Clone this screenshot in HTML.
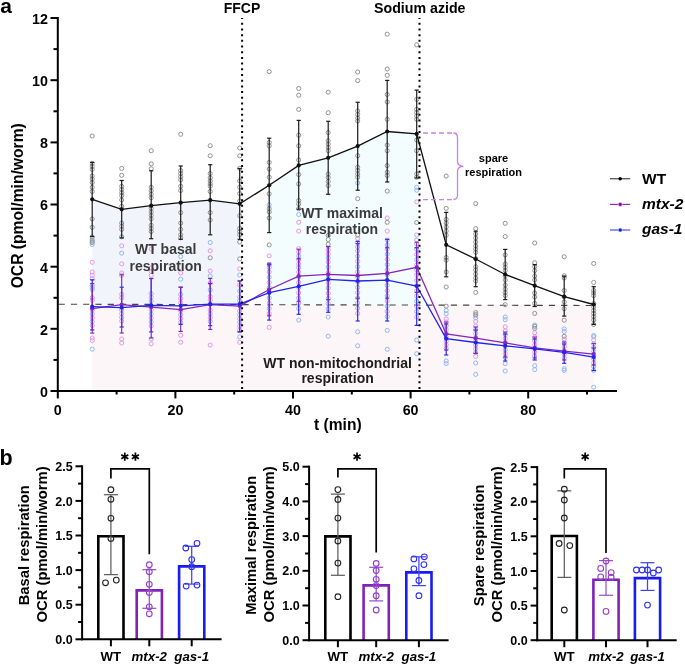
<!DOCTYPE html>
<html><head><meta charset="utf-8"><style>
html,body{margin:0;padding:0;background:#fff;}
svg{display:block;will-change:transform;}
</style></head><body>
<svg width="685" height="666" viewBox="0 0 685 666">
<rect width="685" height="666" fill="#fff"/>
<polygon points="92.2,304.3 593.7,305.5 593.7,390.0 92.2,390.0" fill="#fcf6f9"/>
<polygon points="92.2,304.3 92.2,199.3 121.7,209.3 151.2,205.7 180.7,202.7 210.2,200.2 239.7,203.8 239.7,304.6" fill="#f1f5fb"/>
<polygon points="269.2,304.7 269.2,185.3 298.7,165.4 328.2,157.8 357.7,146.1 387.2,131.5 416.7,133.9 416.7,305.1" fill="#f3fdfd"/>
<line x1="58.6" y1="304.20" x2="595" y2="305.50" stroke="#444" stroke-width="1.15" stroke-dasharray="6.2,6.057"/>
<g fill="none" stroke-width="1.0">
<circle cx="92.2" cy="241.5" r="2.05" stroke="#94b8f2"/>
<circle cx="92.2" cy="244.5" r="2.05" stroke="#94b8f2"/>
<circle cx="92.2" cy="262.3" r="2.05" stroke="#e796e8"/>
<circle cx="92.2" cy="272.0" r="2.05" stroke="#e796e8"/>
<circle cx="92.2" cy="275.3" r="2.05" stroke="#e796e8"/>
<circle cx="92.2" cy="278.7" r="2.05" stroke="#e796e8"/>
<circle cx="92.2" cy="285.3" r="2.05" stroke="#94b8f2"/>
<circle cx="92.2" cy="287.5" r="2.05" stroke="#94b8f2"/>
<circle cx="92.2" cy="289.5" r="2.05" stroke="#94b8f2"/>
<circle cx="92.2" cy="297.7" r="2.05" stroke="#e796e8"/>
<circle cx="92.2" cy="300.2" r="2.05" stroke="#e796e8"/>
<circle cx="92.2" cy="310.0" r="2.05" stroke="#e796e8"/>
<circle cx="92.2" cy="313.9" r="2.05" stroke="#94b8f2"/>
<circle cx="92.2" cy="317.8" r="2.05" stroke="#e796e8"/>
<circle cx="92.2" cy="321.7" r="2.05" stroke="#94b8f2"/>
<circle cx="92.2" cy="325.6" r="2.05" stroke="#e796e8"/>
<circle cx="92.2" cy="338.0" r="2.05" stroke="#e796e8"/>
<circle cx="92.2" cy="340.6" r="2.05" stroke="#e796e8"/>
<circle cx="92.2" cy="349.2" r="2.05" stroke="#94b8f2"/>
<circle cx="92.2" cy="136.0" r="2.05" stroke="#939393"/>
<circle cx="92.2" cy="163.5" r="2.05" stroke="#939393"/>
<circle cx="92.2" cy="166.5" r="2.05" stroke="#939393"/>
<circle cx="92.2" cy="169.4" r="2.05" stroke="#939393"/>
<circle cx="92.2" cy="176.0" r="2.05" stroke="#939393"/>
<circle cx="92.2" cy="179.0" r="2.05" stroke="#939393"/>
<circle cx="92.2" cy="182.5" r="2.05" stroke="#939393"/>
<circle cx="92.2" cy="187.3" r="2.05" stroke="#939393"/>
<circle cx="92.2" cy="191.5" r="2.05" stroke="#939393"/>
<circle cx="92.2" cy="218.9" r="2.05" stroke="#939393"/>
<circle cx="92.2" cy="227.3" r="2.05" stroke="#939393"/>
<circle cx="92.2" cy="237.0" r="2.05" stroke="#939393"/>
<circle cx="92.2" cy="240.0" r="2.05" stroke="#939393"/>
<circle cx="92.2" cy="242.5" r="2.05" stroke="#939393"/>
<circle cx="121.7" cy="245.8" r="2.05" stroke="#e796e8"/>
<circle cx="121.7" cy="253.2" r="2.05" stroke="#94b8f2"/>
<circle cx="121.7" cy="263.9" r="2.05" stroke="#e796e8"/>
<circle cx="121.7" cy="273.0" r="2.05" stroke="#e796e8"/>
<circle cx="121.7" cy="275.4" r="2.05" stroke="#e796e8"/>
<circle cx="121.7" cy="294.4" r="2.05" stroke="#e796e8"/>
<circle cx="121.7" cy="297.7" r="2.05" stroke="#e796e8"/>
<circle cx="121.7" cy="310.0" r="2.05" stroke="#94b8f2"/>
<circle cx="121.7" cy="313.7" r="2.05" stroke="#e796e8"/>
<circle cx="121.7" cy="317.4" r="2.05" stroke="#94b8f2"/>
<circle cx="121.7" cy="321.1" r="2.05" stroke="#e796e8"/>
<circle cx="121.7" cy="339.0" r="2.05" stroke="#e796e8"/>
<circle cx="121.7" cy="343.0" r="2.05" stroke="#e796e8"/>
<circle cx="121.7" cy="168.4" r="2.05" stroke="#939393"/>
<circle cx="121.7" cy="175.3" r="2.05" stroke="#939393"/>
<circle cx="121.7" cy="186.3" r="2.05" stroke="#939393"/>
<circle cx="121.7" cy="189.5" r="2.05" stroke="#939393"/>
<circle cx="121.7" cy="192.7" r="2.05" stroke="#939393"/>
<circle cx="121.7" cy="195.7" r="2.05" stroke="#939393"/>
<circle cx="121.7" cy="200.0" r="2.05" stroke="#939393"/>
<circle cx="121.7" cy="206.3" r="2.05" stroke="#939393"/>
<circle cx="121.7" cy="223.0" r="2.05" stroke="#939393"/>
<circle cx="121.7" cy="226.2" r="2.05" stroke="#939393"/>
<circle cx="121.7" cy="229.4" r="2.05" stroke="#939393"/>
<circle cx="121.7" cy="236.8" r="2.05" stroke="#939393"/>
<circle cx="151.2" cy="249.0" r="2.05" stroke="#e796e8"/>
<circle cx="151.2" cy="268.0" r="2.05" stroke="#e796e8"/>
<circle cx="151.2" cy="271.5" r="2.05" stroke="#e796e8"/>
<circle cx="151.2" cy="275.4" r="2.05" stroke="#e796e8"/>
<circle cx="151.2" cy="293.6" r="2.05" stroke="#94b8f2"/>
<circle cx="151.2" cy="297.3" r="2.05" stroke="#e796e8"/>
<circle cx="151.2" cy="301.0" r="2.05" stroke="#94b8f2"/>
<circle cx="151.2" cy="310.0" r="2.05" stroke="#e796e8"/>
<circle cx="151.2" cy="314.0" r="2.05" stroke="#94b8f2"/>
<circle cx="151.2" cy="318.0" r="2.05" stroke="#e796e8"/>
<circle cx="151.2" cy="322.0" r="2.05" stroke="#94b8f2"/>
<circle cx="151.2" cy="326.0" r="2.05" stroke="#e796e8"/>
<circle cx="151.2" cy="339.0" r="2.05" stroke="#94b8f2"/>
<circle cx="151.2" cy="343.9" r="2.05" stroke="#e796e8"/>
<circle cx="151.2" cy="150.7" r="2.05" stroke="#939393"/>
<circle cx="151.2" cy="163.8" r="2.05" stroke="#939393"/>
<circle cx="151.2" cy="168.8" r="2.05" stroke="#939393"/>
<circle cx="151.2" cy="187.3" r="2.05" stroke="#939393"/>
<circle cx="151.2" cy="190.8" r="2.05" stroke="#939393"/>
<circle cx="151.2" cy="194.3" r="2.05" stroke="#939393"/>
<circle cx="151.2" cy="197.8" r="2.05" stroke="#939393"/>
<circle cx="151.2" cy="208.4" r="2.05" stroke="#939393"/>
<circle cx="151.2" cy="211.9" r="2.05" stroke="#939393"/>
<circle cx="151.2" cy="215.4" r="2.05" stroke="#939393"/>
<circle cx="151.2" cy="218.9" r="2.05" stroke="#939393"/>
<circle cx="151.2" cy="225.2" r="2.05" stroke="#939393"/>
<circle cx="151.2" cy="228.4" r="2.05" stroke="#939393"/>
<circle cx="151.2" cy="231.5" r="2.05" stroke="#939393"/>
<circle cx="180.7" cy="256.5" r="2.05" stroke="#94b8f2"/>
<circle cx="180.7" cy="273.0" r="2.05" stroke="#e796e8"/>
<circle cx="180.7" cy="279.2" r="2.05" stroke="#94b8f2"/>
<circle cx="180.7" cy="294.4" r="2.05" stroke="#94b8f2"/>
<circle cx="180.7" cy="298.5" r="2.05" stroke="#e796e8"/>
<circle cx="180.7" cy="302.7" r="2.05" stroke="#e796e8"/>
<circle cx="180.7" cy="311.0" r="2.05" stroke="#e796e8"/>
<circle cx="180.7" cy="314.8" r="2.05" stroke="#94b8f2"/>
<circle cx="180.7" cy="318.6" r="2.05" stroke="#e796e8"/>
<circle cx="180.7" cy="322.4" r="2.05" stroke="#94b8f2"/>
<circle cx="180.7" cy="335.3" r="2.05" stroke="#e796e8"/>
<circle cx="180.7" cy="342.2" r="2.05" stroke="#e796e8"/>
<circle cx="180.7" cy="134.3" r="2.05" stroke="#939393"/>
<circle cx="180.7" cy="170.5" r="2.05" stroke="#939393"/>
<circle cx="180.7" cy="173.6" r="2.05" stroke="#939393"/>
<circle cx="180.7" cy="176.8" r="2.05" stroke="#939393"/>
<circle cx="180.7" cy="180.0" r="2.05" stroke="#939393"/>
<circle cx="180.7" cy="186.3" r="2.05" stroke="#939393"/>
<circle cx="180.7" cy="190.5" r="2.05" stroke="#939393"/>
<circle cx="180.7" cy="212.6" r="2.05" stroke="#939393"/>
<circle cx="180.7" cy="223.1" r="2.05" stroke="#939393"/>
<circle cx="180.7" cy="229.4" r="2.05" stroke="#939393"/>
<circle cx="180.7" cy="234.7" r="2.05" stroke="#939393"/>
<circle cx="180.7" cy="237.8" r="2.05" stroke="#939393"/>
<circle cx="210.2" cy="242.5" r="2.05" stroke="#94b8f2"/>
<circle cx="210.2" cy="250.8" r="2.05" stroke="#e796e8"/>
<circle cx="210.2" cy="271.0" r="2.05" stroke="#e796e8"/>
<circle cx="210.2" cy="276.0" r="2.05" stroke="#94b8f2"/>
<circle cx="210.2" cy="283.0" r="2.05" stroke="#e796e8"/>
<circle cx="210.2" cy="290.0" r="2.05" stroke="#94b8f2"/>
<circle cx="210.2" cy="296.5" r="2.05" stroke="#e796e8"/>
<circle cx="210.2" cy="300.0" r="2.05" stroke="#e796e8"/>
<circle cx="210.2" cy="310.0" r="2.05" stroke="#e796e8"/>
<circle cx="210.2" cy="313.8" r="2.05" stroke="#94b8f2"/>
<circle cx="210.2" cy="317.6" r="2.05" stroke="#e796e8"/>
<circle cx="210.2" cy="321.4" r="2.05" stroke="#94b8f2"/>
<circle cx="210.2" cy="345.1" r="2.05" stroke="#e796e8"/>
<circle cx="210.2" cy="145.7" r="2.05" stroke="#939393"/>
<circle cx="210.2" cy="155.8" r="2.05" stroke="#939393"/>
<circle cx="210.2" cy="173.6" r="2.05" stroke="#939393"/>
<circle cx="210.2" cy="177.9" r="2.05" stroke="#939393"/>
<circle cx="210.2" cy="181.0" r="2.05" stroke="#939393"/>
<circle cx="210.2" cy="184.0" r="2.05" stroke="#939393"/>
<circle cx="210.2" cy="186.3" r="2.05" stroke="#939393"/>
<circle cx="210.2" cy="191.5" r="2.05" stroke="#939393"/>
<circle cx="210.2" cy="212.6" r="2.05" stroke="#939393"/>
<circle cx="210.2" cy="220.0" r="2.05" stroke="#939393"/>
<circle cx="210.2" cy="257.8" r="2.05" stroke="#939393"/>
<circle cx="239.7" cy="268.8" r="2.05" stroke="#e796e8"/>
<circle cx="239.7" cy="275.0" r="2.05" stroke="#94b8f2"/>
<circle cx="239.7" cy="285.0" r="2.05" stroke="#e796e8"/>
<circle cx="239.7" cy="291.0" r="2.05" stroke="#94b8f2"/>
<circle cx="239.7" cy="297.0" r="2.05" stroke="#e796e8"/>
<circle cx="239.7" cy="300.5" r="2.05" stroke="#94b8f2"/>
<circle cx="239.7" cy="311.0" r="2.05" stroke="#e796e8"/>
<circle cx="239.7" cy="314.8" r="2.05" stroke="#94b8f2"/>
<circle cx="239.7" cy="318.6" r="2.05" stroke="#e796e8"/>
<circle cx="239.7" cy="322.4" r="2.05" stroke="#94b8f2"/>
<circle cx="239.7" cy="326.2" r="2.05" stroke="#e796e8"/>
<circle cx="239.7" cy="330.0" r="2.05" stroke="#94b8f2"/>
<circle cx="239.7" cy="336.8" r="2.05" stroke="#94b8f2"/>
<circle cx="239.7" cy="342.3" r="2.05" stroke="#e796e8"/>
<circle cx="239.7" cy="148.0" r="2.05" stroke="#939393"/>
<circle cx="239.7" cy="155.8" r="2.05" stroke="#939393"/>
<circle cx="239.7" cy="168.4" r="2.05" stroke="#939393"/>
<circle cx="239.7" cy="181.0" r="2.05" stroke="#939393"/>
<circle cx="239.7" cy="187.3" r="2.05" stroke="#939393"/>
<circle cx="239.7" cy="193.6" r="2.05" stroke="#939393"/>
<circle cx="239.7" cy="201.0" r="2.05" stroke="#939393"/>
<circle cx="239.7" cy="215.7" r="2.05" stroke="#939393"/>
<circle cx="239.7" cy="228.4" r="2.05" stroke="#939393"/>
<circle cx="239.7" cy="231.5" r="2.05" stroke="#939393"/>
<circle cx="239.7" cy="234.7" r="2.05" stroke="#939393"/>
<circle cx="239.7" cy="242.0" r="2.05" stroke="#939393"/>
<circle cx="239.7" cy="258.9" r="2.05" stroke="#939393"/>
<circle cx="269.2" cy="204.8" r="2.05" stroke="#94b8f2"/>
<circle cx="269.2" cy="255.9" r="2.05" stroke="#e796e8"/>
<circle cx="269.2" cy="264.7" r="2.05" stroke="#e796e8"/>
<circle cx="269.2" cy="267.6" r="2.05" stroke="#94b8f2"/>
<circle cx="269.2" cy="272.0" r="2.05" stroke="#e796e8"/>
<circle cx="269.2" cy="277.2" r="2.05" stroke="#94b8f2"/>
<circle cx="269.2" cy="282.4" r="2.05" stroke="#e796e8"/>
<circle cx="269.2" cy="287.6" r="2.05" stroke="#94b8f2"/>
<circle cx="269.2" cy="292.8" r="2.05" stroke="#e796e8"/>
<circle cx="269.2" cy="298.0" r="2.05" stroke="#94b8f2"/>
<circle cx="269.2" cy="303.2" r="2.05" stroke="#e796e8"/>
<circle cx="269.2" cy="308.4" r="2.05" stroke="#94b8f2"/>
<circle cx="269.2" cy="313.6" r="2.05" stroke="#e796e8"/>
<circle cx="269.2" cy="327.4" r="2.05" stroke="#e796e8"/>
<circle cx="269.2" cy="71.6" r="2.05" stroke="#939393"/>
<circle cx="269.2" cy="142.5" r="2.05" stroke="#939393"/>
<circle cx="269.2" cy="145.8" r="2.05" stroke="#939393"/>
<circle cx="269.2" cy="162.4" r="2.05" stroke="#939393"/>
<circle cx="269.2" cy="169.0" r="2.05" stroke="#939393"/>
<circle cx="269.2" cy="177.3" r="2.05" stroke="#939393"/>
<circle cx="269.2" cy="193.8" r="2.05" stroke="#939393"/>
<circle cx="269.2" cy="208.7" r="2.05" stroke="#939393"/>
<circle cx="269.2" cy="212.0" r="2.05" stroke="#939393"/>
<circle cx="269.2" cy="218.0" r="2.05" stroke="#939393"/>
<circle cx="269.2" cy="244.9" r="2.05" stroke="#939393"/>
<circle cx="298.7" cy="214.5" r="2.05" stroke="#94b8f2"/>
<circle cx="298.7" cy="222.3" r="2.05" stroke="#e796e8"/>
<circle cx="298.7" cy="231.1" r="2.05" stroke="#e796e8"/>
<circle cx="298.7" cy="248.6" r="2.05" stroke="#e796e8"/>
<circle cx="298.7" cy="252.0" r="2.05" stroke="#e796e8"/>
<circle cx="298.7" cy="256.0" r="2.05" stroke="#94b8f2"/>
<circle cx="298.7" cy="260.0" r="2.05" stroke="#e796e8"/>
<circle cx="298.7" cy="264.0" r="2.05" stroke="#e796e8"/>
<circle cx="298.7" cy="267.6" r="2.05" stroke="#94b8f2"/>
<circle cx="298.7" cy="272.0" r="2.05" stroke="#e796e8"/>
<circle cx="298.7" cy="277.2" r="2.05" stroke="#94b8f2"/>
<circle cx="298.7" cy="282.4" r="2.05" stroke="#e796e8"/>
<circle cx="298.7" cy="287.6" r="2.05" stroke="#94b8f2"/>
<circle cx="298.7" cy="292.8" r="2.05" stroke="#e796e8"/>
<circle cx="298.7" cy="298.0" r="2.05" stroke="#94b8f2"/>
<circle cx="298.7" cy="303.2" r="2.05" stroke="#e796e8"/>
<circle cx="298.7" cy="308.4" r="2.05" stroke="#94b8f2"/>
<circle cx="298.7" cy="320.1" r="2.05" stroke="#94b8f2"/>
<circle cx="298.7" cy="88.5" r="2.05" stroke="#939393"/>
<circle cx="298.7" cy="95.2" r="2.05" stroke="#939393"/>
<circle cx="298.7" cy="109.4" r="2.05" stroke="#939393"/>
<circle cx="298.7" cy="135.2" r="2.05" stroke="#939393"/>
<circle cx="298.7" cy="145.8" r="2.05" stroke="#939393"/>
<circle cx="298.7" cy="160.0" r="2.05" stroke="#939393"/>
<circle cx="298.7" cy="174.6" r="2.05" stroke="#939393"/>
<circle cx="298.7" cy="183.9" r="2.05" stroke="#939393"/>
<circle cx="298.7" cy="200.5" r="2.05" stroke="#939393"/>
<circle cx="298.7" cy="204.0" r="2.05" stroke="#939393"/>
<circle cx="298.7" cy="208.7" r="2.05" stroke="#939393"/>
<circle cx="328.2" cy="250.0" r="2.05" stroke="#e796e8"/>
<circle cx="328.2" cy="254.0" r="2.05" stroke="#e796e8"/>
<circle cx="328.2" cy="258.0" r="2.05" stroke="#94b8f2"/>
<circle cx="328.2" cy="262.0" r="2.05" stroke="#e796e8"/>
<circle cx="328.2" cy="267.2" r="2.05" stroke="#94b8f2"/>
<circle cx="328.2" cy="272.4" r="2.05" stroke="#e796e8"/>
<circle cx="328.2" cy="277.6" r="2.05" stroke="#94b8f2"/>
<circle cx="328.2" cy="282.8" r="2.05" stroke="#e796e8"/>
<circle cx="328.2" cy="288.0" r="2.05" stroke="#94b8f2"/>
<circle cx="328.2" cy="293.2" r="2.05" stroke="#e796e8"/>
<circle cx="328.2" cy="298.4" r="2.05" stroke="#94b8f2"/>
<circle cx="328.2" cy="303.6" r="2.05" stroke="#e796e8"/>
<circle cx="328.2" cy="308.8" r="2.05" stroke="#94b8f2"/>
<circle cx="328.2" cy="317.0" r="2.05" stroke="#94b8f2"/>
<circle cx="328.2" cy="336.2" r="2.05" stroke="#94b8f2"/>
<circle cx="328.2" cy="92.2" r="2.05" stroke="#939393"/>
<circle cx="328.2" cy="112.7" r="2.05" stroke="#939393"/>
<circle cx="328.2" cy="132.6" r="2.05" stroke="#939393"/>
<circle cx="328.2" cy="140.9" r="2.05" stroke="#939393"/>
<circle cx="328.2" cy="144.0" r="2.05" stroke="#939393"/>
<circle cx="328.2" cy="147.5" r="2.05" stroke="#939393"/>
<circle cx="328.2" cy="150.8" r="2.05" stroke="#939393"/>
<circle cx="328.2" cy="174.0" r="2.05" stroke="#939393"/>
<circle cx="328.2" cy="177.5" r="2.05" stroke="#939393"/>
<circle cx="328.2" cy="181.5" r="2.05" stroke="#939393"/>
<circle cx="328.2" cy="185.6" r="2.05" stroke="#939393"/>
<circle cx="328.2" cy="235.5" r="2.05" stroke="#939393"/>
<circle cx="328.2" cy="239.5" r="2.05" stroke="#939393"/>
<circle cx="328.2" cy="244.2" r="2.05" stroke="#939393"/>
<circle cx="357.7" cy="183.0" r="2.05" stroke="#94b8f2"/>
<circle cx="357.7" cy="238.4" r="2.05" stroke="#e796e8"/>
<circle cx="357.7" cy="243.0" r="2.05" stroke="#e796e8"/>
<circle cx="357.7" cy="247.0" r="2.05" stroke="#94b8f2"/>
<circle cx="357.7" cy="251.0" r="2.05" stroke="#e796e8"/>
<circle cx="357.7" cy="256.2" r="2.05" stroke="#94b8f2"/>
<circle cx="357.7" cy="261.4" r="2.05" stroke="#e796e8"/>
<circle cx="357.7" cy="266.6" r="2.05" stroke="#94b8f2"/>
<circle cx="357.7" cy="271.8" r="2.05" stroke="#e796e8"/>
<circle cx="357.7" cy="277.0" r="2.05" stroke="#94b8f2"/>
<circle cx="357.7" cy="282.2" r="2.05" stroke="#e796e8"/>
<circle cx="357.7" cy="287.4" r="2.05" stroke="#94b8f2"/>
<circle cx="357.7" cy="292.6" r="2.05" stroke="#e796e8"/>
<circle cx="357.7" cy="297.8" r="2.05" stroke="#94b8f2"/>
<circle cx="357.7" cy="303.0" r="2.05" stroke="#e796e8"/>
<circle cx="357.7" cy="308.2" r="2.05" stroke="#94b8f2"/>
<circle cx="357.7" cy="313.4" r="2.05" stroke="#e796e8"/>
<circle cx="357.7" cy="331.8" r="2.05" stroke="#94b8f2"/>
<circle cx="357.7" cy="345.8" r="2.05" stroke="#94b8f2"/>
<circle cx="357.7" cy="72.0" r="2.05" stroke="#939393"/>
<circle cx="357.7" cy="80.6" r="2.05" stroke="#939393"/>
<circle cx="357.7" cy="111.0" r="2.05" stroke="#939393"/>
<circle cx="357.7" cy="114.5" r="2.05" stroke="#939393"/>
<circle cx="357.7" cy="118.0" r="2.05" stroke="#939393"/>
<circle cx="357.7" cy="121.0" r="2.05" stroke="#939393"/>
<circle cx="357.7" cy="155.7" r="2.05" stroke="#939393"/>
<circle cx="357.7" cy="167.3" r="2.05" stroke="#939393"/>
<circle cx="357.7" cy="170.5" r="2.05" stroke="#939393"/>
<circle cx="357.7" cy="174.0" r="2.05" stroke="#939393"/>
<circle cx="357.7" cy="177.2" r="2.05" stroke="#939393"/>
<circle cx="357.7" cy="198.7" r="2.05" stroke="#939393"/>
<circle cx="357.7" cy="235.1" r="2.05" stroke="#939393"/>
<circle cx="387.2" cy="218.0" r="2.05" stroke="#e796e8"/>
<circle cx="387.2" cy="231.1" r="2.05" stroke="#e796e8"/>
<circle cx="387.2" cy="240.0" r="2.05" stroke="#e796e8"/>
<circle cx="387.2" cy="245.0" r="2.05" stroke="#94b8f2"/>
<circle cx="387.2" cy="249.0" r="2.05" stroke="#e796e8"/>
<circle cx="387.2" cy="254.2" r="2.05" stroke="#94b8f2"/>
<circle cx="387.2" cy="259.4" r="2.05" stroke="#e796e8"/>
<circle cx="387.2" cy="264.6" r="2.05" stroke="#94b8f2"/>
<circle cx="387.2" cy="269.8" r="2.05" stroke="#e796e8"/>
<circle cx="387.2" cy="275.0" r="2.05" stroke="#94b8f2"/>
<circle cx="387.2" cy="280.2" r="2.05" stroke="#e796e8"/>
<circle cx="387.2" cy="285.4" r="2.05" stroke="#94b8f2"/>
<circle cx="387.2" cy="290.6" r="2.05" stroke="#e796e8"/>
<circle cx="387.2" cy="295.8" r="2.05" stroke="#94b8f2"/>
<circle cx="387.2" cy="301.0" r="2.05" stroke="#e796e8"/>
<circle cx="387.2" cy="306.2" r="2.05" stroke="#94b8f2"/>
<circle cx="387.2" cy="311.4" r="2.05" stroke="#e796e8"/>
<circle cx="387.2" cy="316.6" r="2.05" stroke="#94b8f2"/>
<circle cx="387.2" cy="330.4" r="2.05" stroke="#94b8f2"/>
<circle cx="387.2" cy="349.3" r="2.05" stroke="#94b8f2"/>
<circle cx="387.2" cy="34.2" r="2.05" stroke="#939393"/>
<circle cx="387.2" cy="69.0" r="2.05" stroke="#939393"/>
<circle cx="387.2" cy="75.3" r="2.05" stroke="#939393"/>
<circle cx="387.2" cy="94.5" r="2.05" stroke="#939393"/>
<circle cx="387.2" cy="102.0" r="2.05" stroke="#939393"/>
<circle cx="387.2" cy="119.3" r="2.05" stroke="#939393"/>
<circle cx="387.2" cy="145.1" r="2.05" stroke="#939393"/>
<circle cx="387.2" cy="150.7" r="2.05" stroke="#939393"/>
<circle cx="387.2" cy="165.6" r="2.05" stroke="#939393"/>
<circle cx="387.2" cy="172.2" r="2.05" stroke="#939393"/>
<circle cx="387.2" cy="175.5" r="2.05" stroke="#939393"/>
<circle cx="387.2" cy="191.1" r="2.05" stroke="#939393"/>
<circle cx="387.2" cy="222.3" r="2.05" stroke="#939393"/>
<circle cx="416.7" cy="187.3" r="2.05" stroke="#94b8f2"/>
<circle cx="416.7" cy="190.2" r="2.05" stroke="#94b8f2"/>
<circle cx="416.7" cy="201.9" r="2.05" stroke="#e796e8"/>
<circle cx="416.7" cy="235.0" r="2.05" stroke="#e796e8"/>
<circle cx="416.7" cy="240.0" r="2.05" stroke="#94b8f2"/>
<circle cx="416.7" cy="244.0" r="2.05" stroke="#e796e8"/>
<circle cx="416.7" cy="249.2" r="2.05" stroke="#94b8f2"/>
<circle cx="416.7" cy="254.4" r="2.05" stroke="#e796e8"/>
<circle cx="416.7" cy="259.6" r="2.05" stroke="#94b8f2"/>
<circle cx="416.7" cy="264.8" r="2.05" stroke="#e796e8"/>
<circle cx="416.7" cy="270.0" r="2.05" stroke="#94b8f2"/>
<circle cx="416.7" cy="275.2" r="2.05" stroke="#e796e8"/>
<circle cx="416.7" cy="280.4" r="2.05" stroke="#94b8f2"/>
<circle cx="416.7" cy="285.6" r="2.05" stroke="#e796e8"/>
<circle cx="416.7" cy="290.8" r="2.05" stroke="#94b8f2"/>
<circle cx="416.7" cy="296.0" r="2.05" stroke="#e796e8"/>
<circle cx="416.7" cy="301.2" r="2.05" stroke="#94b8f2"/>
<circle cx="416.7" cy="306.4" r="2.05" stroke="#e796e8"/>
<circle cx="416.7" cy="311.6" r="2.05" stroke="#94b8f2"/>
<circle cx="416.7" cy="316.8" r="2.05" stroke="#e796e8"/>
<circle cx="416.7" cy="340.0" r="2.05" stroke="#94b8f2"/>
<circle cx="416.7" cy="353.7" r="2.05" stroke="#94b8f2"/>
<circle cx="416.7" cy="44.8" r="2.05" stroke="#939393"/>
<circle cx="416.7" cy="99.4" r="2.05" stroke="#939393"/>
<circle cx="416.7" cy="109.3" r="2.05" stroke="#939393"/>
<circle cx="416.7" cy="112.6" r="2.05" stroke="#939393"/>
<circle cx="416.7" cy="116.0" r="2.05" stroke="#939393"/>
<circle cx="416.7" cy="119.3" r="2.05" stroke="#939393"/>
<circle cx="416.7" cy="140.1" r="2.05" stroke="#939393"/>
<circle cx="416.7" cy="150.7" r="2.05" stroke="#939393"/>
<circle cx="416.7" cy="173.9" r="2.05" stroke="#939393"/>
<circle cx="416.7" cy="177.2" r="2.05" stroke="#939393"/>
<circle cx="416.7" cy="222.5" r="2.05" stroke="#939393"/>
<circle cx="446.2" cy="310.5" r="2.05" stroke="#94b8f2"/>
<circle cx="446.2" cy="313.7" r="2.05" stroke="#94b8f2"/>
<circle cx="446.2" cy="318.9" r="2.05" stroke="#e796e8"/>
<circle cx="446.2" cy="322.0" r="2.05" stroke="#e796e8"/>
<circle cx="446.2" cy="325.8" r="2.05" stroke="#94b8f2"/>
<circle cx="446.2" cy="329.6" r="2.05" stroke="#e796e8"/>
<circle cx="446.2" cy="333.4" r="2.05" stroke="#94b8f2"/>
<circle cx="446.2" cy="337.2" r="2.05" stroke="#e796e8"/>
<circle cx="446.2" cy="341.0" r="2.05" stroke="#94b8f2"/>
<circle cx="446.2" cy="344.8" r="2.05" stroke="#e796e8"/>
<circle cx="446.2" cy="348.6" r="2.05" stroke="#94b8f2"/>
<circle cx="446.2" cy="361.0" r="2.05" stroke="#94b8f2"/>
<circle cx="446.2" cy="363.6" r="2.05" stroke="#94b8f2"/>
<circle cx="446.2" cy="176.1" r="2.05" stroke="#939393"/>
<circle cx="446.2" cy="208.4" r="2.05" stroke="#939393"/>
<circle cx="446.2" cy="219.4" r="2.05" stroke="#939393"/>
<circle cx="446.2" cy="223.0" r="2.05" stroke="#939393"/>
<circle cx="446.2" cy="227.0" r="2.05" stroke="#939393"/>
<circle cx="446.2" cy="231.0" r="2.05" stroke="#939393"/>
<circle cx="446.2" cy="235.2" r="2.05" stroke="#939393"/>
<circle cx="446.2" cy="257.5" r="2.05" stroke="#939393"/>
<circle cx="446.2" cy="260.1" r="2.05" stroke="#939393"/>
<circle cx="446.2" cy="272.0" r="2.05" stroke="#939393"/>
<circle cx="446.2" cy="287.0" r="2.05" stroke="#939393"/>
<circle cx="446.2" cy="306.2" r="2.05" stroke="#939393"/>
<circle cx="475.7" cy="315.8" r="2.05" stroke="#94b8f2"/>
<circle cx="475.7" cy="317.9" r="2.05" stroke="#94b8f2"/>
<circle cx="475.7" cy="321.5" r="2.05" stroke="#e796e8"/>
<circle cx="475.7" cy="326.0" r="2.05" stroke="#e796e8"/>
<circle cx="475.7" cy="329.8" r="2.05" stroke="#94b8f2"/>
<circle cx="475.7" cy="333.6" r="2.05" stroke="#e796e8"/>
<circle cx="475.7" cy="337.4" r="2.05" stroke="#94b8f2"/>
<circle cx="475.7" cy="341.2" r="2.05" stroke="#e796e8"/>
<circle cx="475.7" cy="345.0" r="2.05" stroke="#94b8f2"/>
<circle cx="475.7" cy="348.8" r="2.05" stroke="#e796e8"/>
<circle cx="475.7" cy="352.6" r="2.05" stroke="#94b8f2"/>
<circle cx="475.7" cy="356.4" r="2.05" stroke="#e796e8"/>
<circle cx="475.7" cy="363.0" r="2.05" stroke="#94b8f2"/>
<circle cx="475.7" cy="374.4" r="2.05" stroke="#94b8f2"/>
<circle cx="475.7" cy="203.6" r="2.05" stroke="#939393"/>
<circle cx="475.7" cy="228.6" r="2.05" stroke="#939393"/>
<circle cx="475.7" cy="234.0" r="2.05" stroke="#939393"/>
<circle cx="475.7" cy="238.0" r="2.05" stroke="#939393"/>
<circle cx="475.7" cy="242.0" r="2.05" stroke="#939393"/>
<circle cx="475.7" cy="246.0" r="2.05" stroke="#939393"/>
<circle cx="475.7" cy="249.0" r="2.05" stroke="#939393"/>
<circle cx="475.7" cy="252.3" r="2.05" stroke="#939393"/>
<circle cx="475.7" cy="258.8" r="2.05" stroke="#939393"/>
<circle cx="475.7" cy="266.7" r="2.05" stroke="#939393"/>
<circle cx="475.7" cy="270.0" r="2.05" stroke="#939393"/>
<circle cx="475.7" cy="274.0" r="2.05" stroke="#939393"/>
<circle cx="475.7" cy="278.0" r="2.05" stroke="#939393"/>
<circle cx="475.7" cy="281.0" r="2.05" stroke="#939393"/>
<circle cx="475.7" cy="292.4" r="2.05" stroke="#939393"/>
<circle cx="475.7" cy="312.6" r="2.05" stroke="#939393"/>
<circle cx="475.7" cy="314.5" r="2.05" stroke="#939393"/>
<circle cx="505.2" cy="317.0" r="2.05" stroke="#94b8f2"/>
<circle cx="505.2" cy="319.7" r="2.05" stroke="#94b8f2"/>
<circle cx="505.2" cy="326.8" r="2.05" stroke="#e796e8"/>
<circle cx="505.2" cy="331.0" r="2.05" stroke="#e796e8"/>
<circle cx="505.2" cy="334.8" r="2.05" stroke="#94b8f2"/>
<circle cx="505.2" cy="338.6" r="2.05" stroke="#e796e8"/>
<circle cx="505.2" cy="342.4" r="2.05" stroke="#94b8f2"/>
<circle cx="505.2" cy="346.2" r="2.05" stroke="#e796e8"/>
<circle cx="505.2" cy="350.0" r="2.05" stroke="#94b8f2"/>
<circle cx="505.2" cy="353.8" r="2.05" stroke="#e796e8"/>
<circle cx="505.2" cy="357.6" r="2.05" stroke="#94b8f2"/>
<circle cx="505.2" cy="363.6" r="2.05" stroke="#94b8f2"/>
<circle cx="505.2" cy="371.0" r="2.05" stroke="#94b8f2"/>
<circle cx="505.2" cy="223.3" r="2.05" stroke="#939393"/>
<circle cx="505.2" cy="236.5" r="2.05" stroke="#939393"/>
<circle cx="505.2" cy="254.9" r="2.05" stroke="#939393"/>
<circle cx="505.2" cy="264.0" r="2.05" stroke="#939393"/>
<circle cx="505.2" cy="267.3" r="2.05" stroke="#939393"/>
<circle cx="505.2" cy="270.6" r="2.05" stroke="#939393"/>
<circle cx="505.2" cy="276.0" r="2.05" stroke="#939393"/>
<circle cx="505.2" cy="280.0" r="2.05" stroke="#939393"/>
<circle cx="505.2" cy="285.0" r="2.05" stroke="#939393"/>
<circle cx="505.2" cy="289.0" r="2.05" stroke="#939393"/>
<circle cx="505.2" cy="292.5" r="2.05" stroke="#939393"/>
<circle cx="505.2" cy="295.6" r="2.05" stroke="#939393"/>
<circle cx="505.2" cy="304.7" r="2.05" stroke="#939393"/>
<circle cx="534.7" cy="325.0" r="2.05" stroke="#94b8f2"/>
<circle cx="534.7" cy="332.8" r="2.05" stroke="#e796e8"/>
<circle cx="534.7" cy="337.0" r="2.05" stroke="#e796e8"/>
<circle cx="534.7" cy="340.8" r="2.05" stroke="#94b8f2"/>
<circle cx="534.7" cy="344.6" r="2.05" stroke="#e796e8"/>
<circle cx="534.7" cy="348.4" r="2.05" stroke="#94b8f2"/>
<circle cx="534.7" cy="352.2" r="2.05" stroke="#e796e8"/>
<circle cx="534.7" cy="356.0" r="2.05" stroke="#94b8f2"/>
<circle cx="534.7" cy="365.7" r="2.05" stroke="#94b8f2"/>
<circle cx="534.7" cy="369.6" r="2.05" stroke="#94b8f2"/>
<circle cx="534.7" cy="243.0" r="2.05" stroke="#939393"/>
<circle cx="534.7" cy="262.7" r="2.05" stroke="#939393"/>
<circle cx="534.7" cy="266.7" r="2.05" stroke="#939393"/>
<circle cx="534.7" cy="270.6" r="2.05" stroke="#939393"/>
<circle cx="534.7" cy="276.0" r="2.05" stroke="#939393"/>
<circle cx="534.7" cy="280.0" r="2.05" stroke="#939393"/>
<circle cx="534.7" cy="293.0" r="2.05" stroke="#939393"/>
<circle cx="534.7" cy="297.0" r="2.05" stroke="#939393"/>
<circle cx="534.7" cy="303.5" r="2.05" stroke="#939393"/>
<circle cx="534.7" cy="313.4" r="2.05" stroke="#939393"/>
<circle cx="534.7" cy="326.3" r="2.05" stroke="#939393"/>
<circle cx="534.7" cy="328.4" r="2.05" stroke="#939393"/>
<circle cx="564.2" cy="328.9" r="2.05" stroke="#94b8f2"/>
<circle cx="564.2" cy="331.5" r="2.05" stroke="#94b8f2"/>
<circle cx="564.2" cy="339.0" r="2.05" stroke="#e796e8"/>
<circle cx="564.2" cy="342.8" r="2.05" stroke="#94b8f2"/>
<circle cx="564.2" cy="346.6" r="2.05" stroke="#e796e8"/>
<circle cx="564.2" cy="350.4" r="2.05" stroke="#94b8f2"/>
<circle cx="564.2" cy="354.2" r="2.05" stroke="#e796e8"/>
<circle cx="564.2" cy="358.0" r="2.05" stroke="#94b8f2"/>
<circle cx="564.2" cy="368.8" r="2.05" stroke="#94b8f2"/>
<circle cx="564.2" cy="370.4" r="2.05" stroke="#94b8f2"/>
<circle cx="564.2" cy="256.8" r="2.05" stroke="#939393"/>
<circle cx="564.2" cy="275.8" r="2.05" stroke="#939393"/>
<circle cx="564.2" cy="278.0" r="2.05" stroke="#939393"/>
<circle cx="564.2" cy="290.5" r="2.05" stroke="#939393"/>
<circle cx="564.2" cy="297.0" r="2.05" stroke="#939393"/>
<circle cx="564.2" cy="302.0" r="2.05" stroke="#939393"/>
<circle cx="564.2" cy="308.7" r="2.05" stroke="#939393"/>
<circle cx="564.2" cy="320.2" r="2.05" stroke="#939393"/>
<circle cx="564.2" cy="336.3" r="2.05" stroke="#939393"/>
<circle cx="593.7" cy="335.5" r="2.05" stroke="#94b8f2"/>
<circle cx="593.7" cy="336.8" r="2.05" stroke="#94b8f2"/>
<circle cx="593.7" cy="340.0" r="2.05" stroke="#e796e8"/>
<circle cx="593.7" cy="343.8" r="2.05" stroke="#94b8f2"/>
<circle cx="593.7" cy="347.6" r="2.05" stroke="#e796e8"/>
<circle cx="593.7" cy="351.4" r="2.05" stroke="#94b8f2"/>
<circle cx="593.7" cy="355.2" r="2.05" stroke="#e796e8"/>
<circle cx="593.7" cy="359.0" r="2.05" stroke="#94b8f2"/>
<circle cx="593.7" cy="362.8" r="2.05" stroke="#e796e8"/>
<circle cx="593.7" cy="366.6" r="2.05" stroke="#94b8f2"/>
<circle cx="593.7" cy="370.4" r="2.05" stroke="#94b8f2"/>
<circle cx="593.7" cy="387.2" r="2.05" stroke="#94b8f2"/>
<circle cx="593.7" cy="263.5" r="2.05" stroke="#939393"/>
<circle cx="593.7" cy="282.4" r="2.05" stroke="#939393"/>
<circle cx="593.7" cy="290.5" r="2.05" stroke="#939393"/>
<circle cx="593.7" cy="293.0" r="2.05" stroke="#939393"/>
<circle cx="593.7" cy="295.6" r="2.05" stroke="#939393"/>
<circle cx="593.7" cy="303.5" r="2.05" stroke="#939393"/>
<circle cx="593.7" cy="307.0" r="2.05" stroke="#939393"/>
<circle cx="593.7" cy="310.5" r="2.05" stroke="#939393"/>
<circle cx="593.7" cy="313.5" r="2.05" stroke="#939393"/>
<circle cx="593.7" cy="316.6" r="2.05" stroke="#939393"/>
<circle cx="593.7" cy="320.0" r="2.05" stroke="#939393"/>
<circle cx="593.7" cy="324.5" r="2.05" stroke="#939393"/>
</g>
<line x1="92.2" y1="279.8" x2="92.2" y2="330.0" stroke="#2323f0" stroke-width="1.15"/>
<line x1="90.1" y1="279.8" x2="94.3" y2="279.8" stroke="#2323f0" stroke-width="1.15"/>
<line x1="90.1" y1="330.0" x2="94.3" y2="330.0" stroke="#2323f0" stroke-width="1.15"/>
<line x1="121.7" y1="287.2" x2="121.7" y2="327.0" stroke="#2323f0" stroke-width="1.15"/>
<line x1="119.6" y1="287.2" x2="123.8" y2="287.2" stroke="#2323f0" stroke-width="1.15"/>
<line x1="119.6" y1="327.0" x2="123.8" y2="327.0" stroke="#2323f0" stroke-width="1.15"/>
<line x1="151.2" y1="278.5" x2="151.2" y2="331.9" stroke="#2323f0" stroke-width="1.15"/>
<line x1="149.1" y1="278.5" x2="153.3" y2="278.5" stroke="#2323f0" stroke-width="1.15"/>
<line x1="149.1" y1="331.9" x2="153.3" y2="331.9" stroke="#2323f0" stroke-width="1.15"/>
<line x1="180.7" y1="287.2" x2="180.7" y2="324.4" stroke="#2323f0" stroke-width="1.15"/>
<line x1="178.6" y1="287.2" x2="182.8" y2="287.2" stroke="#2323f0" stroke-width="1.15"/>
<line x1="178.6" y1="324.4" x2="182.8" y2="324.4" stroke="#2323f0" stroke-width="1.15"/>
<line x1="210.2" y1="283.5" x2="210.2" y2="325.7" stroke="#2323f0" stroke-width="1.15"/>
<line x1="208.1" y1="283.5" x2="212.3" y2="283.5" stroke="#2323f0" stroke-width="1.15"/>
<line x1="208.1" y1="325.7" x2="212.3" y2="325.7" stroke="#2323f0" stroke-width="1.15"/>
<line x1="239.7" y1="281.0" x2="239.7" y2="331.9" stroke="#2323f0" stroke-width="1.15"/>
<line x1="237.6" y1="281.0" x2="241.8" y2="281.0" stroke="#2323f0" stroke-width="1.15"/>
<line x1="237.6" y1="331.9" x2="241.8" y2="331.9" stroke="#2323f0" stroke-width="1.15"/>
<line x1="269.2" y1="264.7" x2="269.2" y2="320.1" stroke="#2323f0" stroke-width="1.15"/>
<line x1="267.1" y1="264.7" x2="271.3" y2="264.7" stroke="#2323f0" stroke-width="1.15"/>
<line x1="267.1" y1="320.1" x2="271.3" y2="320.1" stroke="#2323f0" stroke-width="1.15"/>
<line x1="298.7" y1="258.8" x2="298.7" y2="314.3" stroke="#2323f0" stroke-width="1.15"/>
<line x1="296.6" y1="258.8" x2="300.8" y2="258.8" stroke="#2323f0" stroke-width="1.15"/>
<line x1="296.6" y1="314.3" x2="300.8" y2="314.3" stroke="#2323f0" stroke-width="1.15"/>
<line x1="328.2" y1="246.6" x2="328.2" y2="312.3" stroke="#2323f0" stroke-width="1.15"/>
<line x1="326.1" y1="246.6" x2="330.3" y2="246.6" stroke="#2323f0" stroke-width="1.15"/>
<line x1="326.1" y1="312.3" x2="330.3" y2="312.3" stroke="#2323f0" stroke-width="1.15"/>
<line x1="357.7" y1="241.3" x2="357.7" y2="321.0" stroke="#2323f0" stroke-width="1.15"/>
<line x1="355.6" y1="241.3" x2="359.8" y2="241.3" stroke="#2323f0" stroke-width="1.15"/>
<line x1="355.6" y1="321.0" x2="359.8" y2="321.0" stroke="#2323f0" stroke-width="1.15"/>
<line x1="387.2" y1="239.3" x2="387.2" y2="321.0" stroke="#2323f0" stroke-width="1.15"/>
<line x1="385.1" y1="239.3" x2="389.3" y2="239.3" stroke="#2323f0" stroke-width="1.15"/>
<line x1="385.1" y1="321.0" x2="389.3" y2="321.0" stroke="#2323f0" stroke-width="1.15"/>
<line x1="416.7" y1="247.7" x2="416.7" y2="325.4" stroke="#2323f0" stroke-width="1.15"/>
<line x1="414.6" y1="247.7" x2="418.8" y2="247.7" stroke="#2323f0" stroke-width="1.15"/>
<line x1="414.6" y1="325.4" x2="418.8" y2="325.4" stroke="#2323f0" stroke-width="1.15"/>
<line x1="446.2" y1="324.0" x2="446.2" y2="355.0" stroke="#2323f0" stroke-width="1.15"/>
<line x1="444.1" y1="324.0" x2="448.3" y2="324.0" stroke="#2323f0" stroke-width="1.15"/>
<line x1="444.1" y1="355.0" x2="448.3" y2="355.0" stroke="#2323f0" stroke-width="1.15"/>
<line x1="475.7" y1="330.0" x2="475.7" y2="353.4" stroke="#2323f0" stroke-width="1.15"/>
<line x1="473.6" y1="330.0" x2="477.8" y2="330.0" stroke="#2323f0" stroke-width="1.15"/>
<line x1="473.6" y1="353.4" x2="477.8" y2="353.4" stroke="#2323f0" stroke-width="1.15"/>
<line x1="505.2" y1="334.0" x2="505.2" y2="361.0" stroke="#2323f0" stroke-width="1.15"/>
<line x1="503.1" y1="334.0" x2="507.3" y2="334.0" stroke="#2323f0" stroke-width="1.15"/>
<line x1="503.1" y1="361.0" x2="507.3" y2="361.0" stroke="#2323f0" stroke-width="1.15"/>
<line x1="534.7" y1="339.0" x2="534.7" y2="360.0" stroke="#2323f0" stroke-width="1.15"/>
<line x1="532.6" y1="339.0" x2="536.8" y2="339.0" stroke="#2323f0" stroke-width="1.15"/>
<line x1="532.6" y1="360.0" x2="536.8" y2="360.0" stroke="#2323f0" stroke-width="1.15"/>
<line x1="564.2" y1="344.0" x2="564.2" y2="363.3" stroke="#2323f0" stroke-width="1.15"/>
<line x1="562.1" y1="344.0" x2="566.3" y2="344.0" stroke="#2323f0" stroke-width="1.15"/>
<line x1="562.1" y1="363.3" x2="566.3" y2="363.3" stroke="#2323f0" stroke-width="1.15"/>
<line x1="593.7" y1="348.0" x2="593.7" y2="370.6" stroke="#2323f0" stroke-width="1.15"/>
<line x1="591.6" y1="348.0" x2="595.8" y2="348.0" stroke="#2323f0" stroke-width="1.15"/>
<line x1="591.6" y1="370.6" x2="595.8" y2="370.6" stroke="#2323f0" stroke-width="1.15"/>
<line x1="92.2" y1="283.5" x2="92.2" y2="333.1" stroke="#8228b8" stroke-width="1.15"/>
<line x1="90.1" y1="283.5" x2="94.3" y2="283.5" stroke="#8228b8" stroke-width="1.15"/>
<line x1="90.1" y1="333.1" x2="94.3" y2="333.1" stroke="#8228b8" stroke-width="1.15"/>
<line x1="121.7" y1="274.8" x2="121.7" y2="333.0" stroke="#8228b8" stroke-width="1.15"/>
<line x1="119.6" y1="274.8" x2="123.8" y2="274.8" stroke="#8228b8" stroke-width="1.15"/>
<line x1="119.6" y1="333.0" x2="123.8" y2="333.0" stroke="#8228b8" stroke-width="1.15"/>
<line x1="151.2" y1="278.5" x2="151.2" y2="338.0" stroke="#8228b8" stroke-width="1.15"/>
<line x1="149.1" y1="278.5" x2="153.3" y2="278.5" stroke="#8228b8" stroke-width="1.15"/>
<line x1="149.1" y1="338.0" x2="153.3" y2="338.0" stroke="#8228b8" stroke-width="1.15"/>
<line x1="180.7" y1="287.2" x2="180.7" y2="331.4" stroke="#8228b8" stroke-width="1.15"/>
<line x1="178.6" y1="287.2" x2="182.8" y2="287.2" stroke="#8228b8" stroke-width="1.15"/>
<line x1="178.6" y1="331.4" x2="182.8" y2="331.4" stroke="#8228b8" stroke-width="1.15"/>
<line x1="210.2" y1="278.5" x2="210.2" y2="329.4" stroke="#8228b8" stroke-width="1.15"/>
<line x1="208.1" y1="278.5" x2="212.3" y2="278.5" stroke="#8228b8" stroke-width="1.15"/>
<line x1="208.1" y1="329.4" x2="212.3" y2="329.4" stroke="#8228b8" stroke-width="1.15"/>
<line x1="239.7" y1="281.0" x2="239.7" y2="331.9" stroke="#8228b8" stroke-width="1.15"/>
<line x1="237.6" y1="281.0" x2="241.8" y2="281.0" stroke="#8228b8" stroke-width="1.15"/>
<line x1="237.6" y1="331.9" x2="241.8" y2="331.9" stroke="#8228b8" stroke-width="1.15"/>
<line x1="269.2" y1="263.2" x2="269.2" y2="315.8" stroke="#8228b8" stroke-width="1.15"/>
<line x1="267.1" y1="263.2" x2="271.3" y2="263.2" stroke="#8228b8" stroke-width="1.15"/>
<line x1="267.1" y1="315.8" x2="271.3" y2="315.8" stroke="#8228b8" stroke-width="1.15"/>
<line x1="298.7" y1="249.2" x2="298.7" y2="301.2" stroke="#8228b8" stroke-width="1.15"/>
<line x1="296.6" y1="249.2" x2="300.8" y2="249.2" stroke="#8228b8" stroke-width="1.15"/>
<line x1="296.6" y1="301.2" x2="300.8" y2="301.2" stroke="#8228b8" stroke-width="1.15"/>
<line x1="328.2" y1="246.6" x2="328.2" y2="299.7" stroke="#8228b8" stroke-width="1.15"/>
<line x1="326.1" y1="246.6" x2="330.3" y2="246.6" stroke="#8228b8" stroke-width="1.15"/>
<line x1="326.1" y1="299.7" x2="330.3" y2="299.7" stroke="#8228b8" stroke-width="1.15"/>
<line x1="357.7" y1="243.6" x2="357.7" y2="298.2" stroke="#8228b8" stroke-width="1.15"/>
<line x1="355.6" y1="243.6" x2="359.8" y2="243.6" stroke="#8228b8" stroke-width="1.15"/>
<line x1="355.6" y1="298.2" x2="359.8" y2="298.2" stroke="#8228b8" stroke-width="1.15"/>
<line x1="387.2" y1="247.7" x2="387.2" y2="298.2" stroke="#8228b8" stroke-width="1.15"/>
<line x1="385.1" y1="247.7" x2="389.3" y2="247.7" stroke="#8228b8" stroke-width="1.15"/>
<line x1="385.1" y1="298.2" x2="389.3" y2="298.2" stroke="#8228b8" stroke-width="1.15"/>
<line x1="416.7" y1="242.2" x2="416.7" y2="292.4" stroke="#8228b8" stroke-width="1.15"/>
<line x1="414.6" y1="242.2" x2="418.8" y2="242.2" stroke="#8228b8" stroke-width="1.15"/>
<line x1="414.6" y1="292.4" x2="418.8" y2="292.4" stroke="#8228b8" stroke-width="1.15"/>
<line x1="446.2" y1="322.0" x2="446.2" y2="350.0" stroke="#8228b8" stroke-width="1.15"/>
<line x1="444.1" y1="322.0" x2="448.3" y2="322.0" stroke="#8228b8" stroke-width="1.15"/>
<line x1="444.1" y1="350.0" x2="448.3" y2="350.0" stroke="#8228b8" stroke-width="1.15"/>
<line x1="475.7" y1="327.0" x2="475.7" y2="353.4" stroke="#8228b8" stroke-width="1.15"/>
<line x1="473.6" y1="327.0" x2="477.8" y2="327.0" stroke="#8228b8" stroke-width="1.15"/>
<line x1="473.6" y1="353.4" x2="477.8" y2="353.4" stroke="#8228b8" stroke-width="1.15"/>
<line x1="505.2" y1="332.0" x2="505.2" y2="357.0" stroke="#8228b8" stroke-width="1.15"/>
<line x1="503.1" y1="332.0" x2="507.3" y2="332.0" stroke="#8228b8" stroke-width="1.15"/>
<line x1="503.1" y1="357.0" x2="507.3" y2="357.0" stroke="#8228b8" stroke-width="1.15"/>
<line x1="534.7" y1="337.0" x2="534.7" y2="358.0" stroke="#8228b8" stroke-width="1.15"/>
<line x1="532.6" y1="337.0" x2="536.8" y2="337.0" stroke="#8228b8" stroke-width="1.15"/>
<line x1="532.6" y1="358.0" x2="536.8" y2="358.0" stroke="#8228b8" stroke-width="1.15"/>
<line x1="564.2" y1="342.0" x2="564.2" y2="360.0" stroke="#8228b8" stroke-width="1.15"/>
<line x1="562.1" y1="342.0" x2="566.3" y2="342.0" stroke="#8228b8" stroke-width="1.15"/>
<line x1="562.1" y1="360.0" x2="566.3" y2="360.0" stroke="#8228b8" stroke-width="1.15"/>
<line x1="593.7" y1="343.5" x2="593.7" y2="365.0" stroke="#8228b8" stroke-width="1.15"/>
<line x1="591.6" y1="343.5" x2="595.8" y2="343.5" stroke="#8228b8" stroke-width="1.15"/>
<line x1="591.6" y1="365.0" x2="595.8" y2="365.0" stroke="#8228b8" stroke-width="1.15"/>
<polyline fill="none" stroke="#8228b8" stroke-width="1.3" points="92.2,308.6 121.7,304.6 151.2,307.1 180.7,309.6 210.2,304.6 239.7,306.1 269.2,289.5 298.7,276.1 328.2,274.3 357.7,275.5 387.2,273.4 416.7,267.3 446.2,334.0 475.7,338.2 505.2,342.9 534.7,347.8 564.2,351.1 593.7,354.1"/>
<circle cx="92.2" cy="308.6" r="2.1" fill="#8228b8"/>
<circle cx="121.7" cy="304.6" r="2.1" fill="#8228b8"/>
<circle cx="151.2" cy="307.1" r="2.1" fill="#8228b8"/>
<circle cx="180.7" cy="309.6" r="2.1" fill="#8228b8"/>
<circle cx="210.2" cy="304.6" r="2.1" fill="#8228b8"/>
<circle cx="239.7" cy="306.1" r="2.1" fill="#8228b8"/>
<circle cx="269.2" cy="289.5" r="2.1" fill="#8228b8"/>
<circle cx="298.7" cy="276.1" r="2.1" fill="#8228b8"/>
<circle cx="328.2" cy="274.3" r="2.1" fill="#8228b8"/>
<circle cx="357.7" cy="275.5" r="2.1" fill="#8228b8"/>
<circle cx="387.2" cy="273.4" r="2.1" fill="#8228b8"/>
<circle cx="416.7" cy="267.3" r="2.1" fill="#8228b8"/>
<circle cx="446.2" cy="334.0" r="2.1" fill="#8228b8"/>
<circle cx="475.7" cy="338.2" r="2.1" fill="#8228b8"/>
<circle cx="505.2" cy="342.9" r="2.1" fill="#8228b8"/>
<circle cx="534.7" cy="347.8" r="2.1" fill="#8228b8"/>
<circle cx="564.2" cy="351.1" r="2.1" fill="#8228b8"/>
<circle cx="593.7" cy="354.1" r="2.1" fill="#8228b8"/>
<polyline fill="none" stroke="#2323f0" stroke-width="1.3" points="92.2,306.6 121.7,307.6 151.2,305.3 180.7,305.8 210.2,304.1 239.7,304.1 269.2,292.7 298.7,286.3 328.2,279.3 357.7,281.0 387.2,280.1 416.7,286.0 446.2,338.6 475.7,342.5 505.2,345.8 534.7,348.8 564.2,352.4 593.7,357.1"/>
<circle cx="92.2" cy="306.6" r="2.1" fill="#2323f0"/>
<circle cx="121.7" cy="307.6" r="2.1" fill="#2323f0"/>
<circle cx="151.2" cy="305.3" r="2.1" fill="#2323f0"/>
<circle cx="180.7" cy="305.8" r="2.1" fill="#2323f0"/>
<circle cx="210.2" cy="304.1" r="2.1" fill="#2323f0"/>
<circle cx="239.7" cy="304.1" r="2.1" fill="#2323f0"/>
<circle cx="269.2" cy="292.7" r="2.1" fill="#2323f0"/>
<circle cx="298.7" cy="286.3" r="2.1" fill="#2323f0"/>
<circle cx="328.2" cy="279.3" r="2.1" fill="#2323f0"/>
<circle cx="357.7" cy="281.0" r="2.1" fill="#2323f0"/>
<circle cx="387.2" cy="280.1" r="2.1" fill="#2323f0"/>
<circle cx="416.7" cy="286.0" r="2.1" fill="#2323f0"/>
<circle cx="446.2" cy="338.6" r="2.1" fill="#2323f0"/>
<circle cx="475.7" cy="342.5" r="2.1" fill="#2323f0"/>
<circle cx="505.2" cy="345.8" r="2.1" fill="#2323f0"/>
<circle cx="534.7" cy="348.8" r="2.1" fill="#2323f0"/>
<circle cx="564.2" cy="352.4" r="2.1" fill="#2323f0"/>
<circle cx="593.7" cy="357.1" r="2.1" fill="#2323f0"/>
<line x1="92.2" y1="162.4" x2="92.2" y2="236.5" stroke="#1a1a1a" stroke-width="1.2"/>
<line x1="90.1" y1="162.4" x2="94.3" y2="162.4" stroke="#1a1a1a" stroke-width="1.2"/>
<line x1="90.1" y1="236.5" x2="94.3" y2="236.5" stroke="#1a1a1a" stroke-width="1.2"/>
<line x1="121.7" y1="180.5" x2="121.7" y2="237.9" stroke="#1a1a1a" stroke-width="1.2"/>
<line x1="119.6" y1="180.5" x2="123.8" y2="180.5" stroke="#1a1a1a" stroke-width="1.2"/>
<line x1="119.6" y1="237.9" x2="123.8" y2="237.9" stroke="#1a1a1a" stroke-width="1.2"/>
<line x1="151.2" y1="170.8" x2="151.2" y2="238.7" stroke="#1a1a1a" stroke-width="1.2"/>
<line x1="149.1" y1="170.8" x2="153.3" y2="170.8" stroke="#1a1a1a" stroke-width="1.2"/>
<line x1="149.1" y1="238.7" x2="153.3" y2="238.7" stroke="#1a1a1a" stroke-width="1.2"/>
<line x1="180.7" y1="166.0" x2="180.7" y2="239.3" stroke="#1a1a1a" stroke-width="1.2"/>
<line x1="178.6" y1="166.0" x2="182.8" y2="166.0" stroke="#1a1a1a" stroke-width="1.2"/>
<line x1="178.6" y1="239.3" x2="182.8" y2="239.3" stroke="#1a1a1a" stroke-width="1.2"/>
<line x1="210.2" y1="164.7" x2="210.2" y2="234.8" stroke="#1a1a1a" stroke-width="1.2"/>
<line x1="208.1" y1="164.7" x2="212.3" y2="164.7" stroke="#1a1a1a" stroke-width="1.2"/>
<line x1="208.1" y1="234.8" x2="212.3" y2="234.8" stroke="#1a1a1a" stroke-width="1.2"/>
<line x1="239.7" y1="168.5" x2="239.7" y2="239.3" stroke="#1a1a1a" stroke-width="1.2"/>
<line x1="237.6" y1="168.5" x2="241.8" y2="168.5" stroke="#1a1a1a" stroke-width="1.2"/>
<line x1="237.6" y1="239.3" x2="241.8" y2="239.3" stroke="#1a1a1a" stroke-width="1.2"/>
<line x1="269.2" y1="138.2" x2="269.2" y2="232.6" stroke="#1a1a1a" stroke-width="1.2"/>
<line x1="267.1" y1="138.2" x2="271.3" y2="138.2" stroke="#1a1a1a" stroke-width="1.2"/>
<line x1="267.1" y1="232.6" x2="271.3" y2="232.6" stroke="#1a1a1a" stroke-width="1.2"/>
<line x1="298.7" y1="120.4" x2="298.7" y2="209.2" stroke="#1a1a1a" stroke-width="1.2"/>
<line x1="296.6" y1="120.4" x2="300.8" y2="120.4" stroke="#1a1a1a" stroke-width="1.2"/>
<line x1="296.6" y1="209.2" x2="300.8" y2="209.2" stroke="#1a1a1a" stroke-width="1.2"/>
<line x1="328.2" y1="121.3" x2="328.2" y2="194.3" stroke="#1a1a1a" stroke-width="1.2"/>
<line x1="326.1" y1="121.3" x2="330.3" y2="121.3" stroke="#1a1a1a" stroke-width="1.2"/>
<line x1="326.1" y1="194.3" x2="330.3" y2="194.3" stroke="#1a1a1a" stroke-width="1.2"/>
<line x1="357.7" y1="102.3" x2="357.7" y2="190.2" stroke="#1a1a1a" stroke-width="1.2"/>
<line x1="355.6" y1="102.3" x2="359.8" y2="102.3" stroke="#1a1a1a" stroke-width="1.2"/>
<line x1="355.6" y1="190.2" x2="359.8" y2="190.2" stroke="#1a1a1a" stroke-width="1.2"/>
<line x1="387.2" y1="80.4" x2="387.2" y2="182.0" stroke="#1a1a1a" stroke-width="1.2"/>
<line x1="385.1" y1="80.4" x2="389.3" y2="80.4" stroke="#1a1a1a" stroke-width="1.2"/>
<line x1="385.1" y1="182.0" x2="389.3" y2="182.0" stroke="#1a1a1a" stroke-width="1.2"/>
<line x1="416.7" y1="90.1" x2="416.7" y2="178.0" stroke="#1a1a1a" stroke-width="1.2"/>
<line x1="414.6" y1="90.1" x2="418.8" y2="90.1" stroke="#1a1a1a" stroke-width="1.2"/>
<line x1="414.6" y1="178.0" x2="418.8" y2="178.0" stroke="#1a1a1a" stroke-width="1.2"/>
<line x1="446.2" y1="212.4" x2="446.2" y2="276.8" stroke="#1a1a1a" stroke-width="1.2"/>
<line x1="444.1" y1="212.4" x2="448.3" y2="212.4" stroke="#1a1a1a" stroke-width="1.2"/>
<line x1="444.1" y1="276.8" x2="448.3" y2="276.8" stroke="#1a1a1a" stroke-width="1.2"/>
<line x1="475.7" y1="231.2" x2="475.7" y2="286.7" stroke="#1a1a1a" stroke-width="1.2"/>
<line x1="473.6" y1="231.2" x2="477.8" y2="231.2" stroke="#1a1a1a" stroke-width="1.2"/>
<line x1="473.6" y1="286.7" x2="477.8" y2="286.7" stroke="#1a1a1a" stroke-width="1.2"/>
<line x1="505.2" y1="249.4" x2="505.2" y2="299.6" stroke="#1a1a1a" stroke-width="1.2"/>
<line x1="503.1" y1="249.4" x2="507.3" y2="249.4" stroke="#1a1a1a" stroke-width="1.2"/>
<line x1="503.1" y1="299.6" x2="507.3" y2="299.6" stroke="#1a1a1a" stroke-width="1.2"/>
<line x1="534.7" y1="264.6" x2="534.7" y2="306.5" stroke="#1a1a1a" stroke-width="1.2"/>
<line x1="532.6" y1="264.6" x2="536.8" y2="264.6" stroke="#1a1a1a" stroke-width="1.2"/>
<line x1="532.6" y1="306.5" x2="536.8" y2="306.5" stroke="#1a1a1a" stroke-width="1.2"/>
<line x1="564.2" y1="276.1" x2="564.2" y2="316.1" stroke="#1a1a1a" stroke-width="1.2"/>
<line x1="562.1" y1="276.1" x2="566.3" y2="276.1" stroke="#1a1a1a" stroke-width="1.2"/>
<line x1="562.1" y1="316.1" x2="566.3" y2="316.1" stroke="#1a1a1a" stroke-width="1.2"/>
<line x1="593.7" y1="286.7" x2="593.7" y2="324.4" stroke="#1a1a1a" stroke-width="1.2"/>
<line x1="591.6" y1="286.7" x2="595.8" y2="286.7" stroke="#1a1a1a" stroke-width="1.2"/>
<line x1="591.6" y1="324.4" x2="595.8" y2="324.4" stroke="#1a1a1a" stroke-width="1.2"/>
<polyline fill="none" stroke="#111" stroke-width="1.35" points="92.2,199.3 121.7,209.3 151.2,205.7 180.7,202.7 210.2,200.2 239.7,203.8 269.2,185.3 298.7,165.4 328.2,157.8 357.7,146.1 387.2,131.5 416.7,133.9 446.2,244.8 475.7,259.0 505.2,274.5 534.7,285.7 564.2,296.6 593.7,304.5"/>
<circle cx="92.2" cy="199.3" r="2.1" fill="#111"/>
<circle cx="121.7" cy="209.3" r="2.1" fill="#111"/>
<circle cx="151.2" cy="205.7" r="2.1" fill="#111"/>
<circle cx="180.7" cy="202.7" r="2.1" fill="#111"/>
<circle cx="210.2" cy="200.2" r="2.1" fill="#111"/>
<circle cx="239.7" cy="203.8" r="2.1" fill="#111"/>
<circle cx="269.2" cy="185.3" r="2.1" fill="#111"/>
<circle cx="298.7" cy="165.4" r="2.1" fill="#111"/>
<circle cx="328.2" cy="157.8" r="2.1" fill="#111"/>
<circle cx="357.7" cy="146.1" r="2.1" fill="#111"/>
<circle cx="387.2" cy="131.5" r="2.1" fill="#111"/>
<circle cx="416.7" cy="133.9" r="2.1" fill="#111"/>
<circle cx="446.2" cy="244.8" r="2.1" fill="#111"/>
<circle cx="475.7" cy="259.0" r="2.1" fill="#111"/>
<circle cx="505.2" cy="274.5" r="2.1" fill="#111"/>
<circle cx="534.7" cy="285.7" r="2.1" fill="#111"/>
<circle cx="564.2" cy="296.6" r="2.1" fill="#111"/>
<circle cx="593.7" cy="304.5" r="2.1" fill="#111"/>
<line x1="242.1" y1="18" x2="242.1" y2="390" stroke="#000" stroke-width="2" stroke-dasharray="2,3.69" stroke-dashoffset="0.9"/>
<line x1="419.5" y1="18" x2="419.5" y2="390" stroke="#000" stroke-width="2" stroke-dasharray="2,3.69" stroke-dashoffset="0.9"/>
<line x1="423" y1="133" x2="455" y2="133" stroke="#c582e6" stroke-width="1.3" stroke-dasharray="5,3"/>
<line x1="423" y1="199.6" x2="455" y2="199.6" stroke="#c582e6" stroke-width="1.3" stroke-dasharray="5,3"/>
<path d="M453.5,133 Q457.5,133 457.5,137.5 L457.5,161 Q457.5,166.3 463.5,166.3 Q457.5,166.3 457.5,171.6 L457.5,195.1 Q457.5,199.6 453.5,199.6" fill="none" stroke="#c582e6" stroke-width="1.3"/>
<g stroke="#000" stroke-width="2" fill="none">
<line x1="57.8" y1="17" x2="57.8" y2="392"/>
<line x1="56.8" y1="391" x2="617" y2="391"/>
<line x1="50.5" y1="391.0" x2="57.8" y2="391.0"/>
<line x1="53.5" y1="359.9" x2="57.8" y2="359.9"/>
<line x1="50.5" y1="328.8" x2="57.8" y2="328.8"/>
<line x1="53.5" y1="297.8" x2="57.8" y2="297.8"/>
<line x1="50.5" y1="266.7" x2="57.8" y2="266.7"/>
<line x1="53.5" y1="235.6" x2="57.8" y2="235.6"/>
<line x1="50.5" y1="204.5" x2="57.8" y2="204.5"/>
<line x1="53.5" y1="173.4" x2="57.8" y2="173.4"/>
<line x1="50.5" y1="142.4" x2="57.8" y2="142.4"/>
<line x1="53.5" y1="111.3" x2="57.8" y2="111.3"/>
<line x1="50.5" y1="80.2" x2="57.8" y2="80.2"/>
<line x1="53.5" y1="49.1" x2="57.8" y2="49.1"/>
<line x1="50.5" y1="18.0" x2="57.8" y2="18.0"/>
<line x1="57.8" y1="391" x2="57.8" y2="398.4"/>
<line x1="116.6" y1="391" x2="116.6" y2="394.5"/>
<line x1="175.4" y1="391" x2="175.4" y2="398.4"/>
<line x1="234.2" y1="391" x2="234.2" y2="394.5"/>
<line x1="293.0" y1="391" x2="293.0" y2="398.4"/>
<line x1="351.8" y1="391" x2="351.8" y2="394.5"/>
<line x1="410.6" y1="391" x2="410.6" y2="398.4"/>
<line x1="469.4" y1="391" x2="469.4" y2="394.5"/>
<line x1="528.2" y1="391" x2="528.2" y2="398.4"/>
<line x1="587.0" y1="391" x2="587.0" y2="394.5"/>
</g>
<g font-family='"Liberation Sans", sans-serif' font-weight="bold" fill="#000">
<text x="0.3" y="13" font-size="21">a</text>
<text x="48" y="396.8" font-size="14.3" text-anchor="end">0</text>
<text x="48" y="334.6" font-size="14.3" text-anchor="end">2</text>
<text x="48" y="272.5" font-size="14.3" text-anchor="end">4</text>
<text x="48" y="210.3" font-size="14.3" text-anchor="end">6</text>
<text x="48" y="148.2" font-size="14.3" text-anchor="end">8</text>
<text x="48" y="86.0" font-size="14.3" text-anchor="end">10</text>
<text x="48" y="23.8" font-size="14.3" text-anchor="end">12</text>
<text x="57.8" y="415" font-size="14.3" text-anchor="middle">0</text>
<text x="175.4" y="415" font-size="14.3" text-anchor="middle">20</text>
<text x="293.0" y="415" font-size="14.3" text-anchor="middle">40</text>
<text x="410.6" y="415" font-size="14.3" text-anchor="middle">60</text>
<text x="528.2" y="415" font-size="14.3" text-anchor="middle">80</text>
<text x="337.8" y="430.4" font-size="15.6" text-anchor="middle">t (min)</text>
<text transform="translate(22.7,288.3) rotate(-90)" font-size="15.65">OCR (pmol/min/worm)</text>
<text x="242" y="13" font-size="14" text-anchor="middle">FFCP</text>
<text x="419.8" y="13" font-size="14.2" text-anchor="middle">Sodium azide</text>
<g fill="#3a3a3a" font-size="14" text-anchor="middle">
<text x="165.7" y="253.5">WT basal</text><text x="165.7" y="271">respiration</text>
<text x="342" y="218">WT maximal</text><text x="342" y="234">respiration</text>
<text x="337.6" y="367.6" fill="#1c1c1c">WT non-mitochondrial</text><text x="337.6" y="383.4" fill="#1c1c1c">respiration</text>
</g>
<g font-size="11" text-anchor="middle"><text x="493.5" y="162.3">spare</text><text x="493.5" y="175.7">respiration</text></g>
<text x="642" y="184" font-size="15.5">WT</text>
<text x="642" y="209.4" font-size="15.5" font-style="italic">mtx-2</text>
<text x="642" y="233.7" font-size="15.5" font-style="italic">gas-1</text>
</g>
<line x1="610" y1="178.7" x2="630.2" y2="178.7" stroke="#555" stroke-width="1.3"/><circle cx="620.2" cy="178.7" r="1.75" fill="#000"/>
<line x1="610" y1="204.4" x2="630.2" y2="204.4" stroke="#8a2cc0" stroke-width="1.2"/><circle cx="620.2" cy="204.4" r="2.3" fill="#eaa6ee"/><circle cx="620.2" cy="204.4" r="1.6" fill="#7a16a8"/>
<line x1="610" y1="230" x2="630.2" y2="230" stroke="#5a5af5" stroke-width="1.3"/><circle cx="620.2" cy="230" r="2.3" fill="#a8c6f6"/><circle cx="620.2" cy="230" r="1.6" fill="#1010f0"/>
<text x="-0.5" y="464.6" font-family='"Liberation Sans", sans-serif' font-weight="bold" font-size="21.5">b</text>
<path d="M98.3,639.3V536.2H123.5V639.3" fill="#fff" stroke="#000000" stroke-width="2.6" stroke-linejoin="miter"/>
<path d="M136.7,639.3V590.4H161.9V639.3" fill="#fff" stroke="#7f22b8" stroke-width="2.6" stroke-linejoin="miter"/>
<path d="M179.1,639.3V566.4H204.3V639.3" fill="#fff" stroke="#1a1af2" stroke-width="2.6" stroke-linejoin="miter"/>
<g stroke="#5e5e5e" stroke-width="1.25">
<line x1="110.9" y1="494.7" x2="110.9" y2="574.6"/>
<line x1="103.9" y1="494.7" x2="117.9" y2="494.7"/>
<line x1="103.9" y1="574.6" x2="117.9" y2="574.6"/>
</g>
<g stroke="#9a52cc" stroke-width="1.25">
<line x1="149.3" y1="569.7" x2="149.3" y2="608.3"/>
<line x1="142.3" y1="569.7" x2="156.3" y2="569.7"/>
<line x1="142.3" y1="608.3" x2="156.3" y2="608.3"/>
</g>
<g stroke="#4444ee" stroke-width="1.25">
<line x1="191.7" y1="546.3" x2="191.7" y2="584.1"/>
<line x1="184.7" y1="546.3" x2="198.7" y2="546.3"/>
<line x1="184.7" y1="584.1" x2="198.7" y2="584.1"/>
</g>
<circle cx="110.9" cy="489.7" r="2.85" fill="none" stroke="#222222" stroke-width="1.1"/>
<circle cx="110.9" cy="499.3" r="2.85" fill="none" stroke="#222222" stroke-width="1.1"/>
<circle cx="110.9" cy="518.3" r="2.85" fill="none" stroke="#222222" stroke-width="1.1"/>
<circle cx="110.9" cy="538.4" r="2.85" fill="none" stroke="#222222" stroke-width="1.1"/>
<circle cx="105.5" cy="582.8" r="2.85" fill="none" stroke="#222222" stroke-width="1.1"/>
<circle cx="116.3" cy="580.1" r="2.85" fill="none" stroke="#222222" stroke-width="1.1"/>
<circle cx="149.3" cy="564.7" r="2.85" fill="none" stroke="#9440c8" stroke-width="1.1"/>
<circle cx="149.3" cy="571.7" r="2.85" fill="none" stroke="#9440c8" stroke-width="1.1"/>
<circle cx="149.3" cy="584.3" r="2.85" fill="none" stroke="#9440c8" stroke-width="1.1"/>
<circle cx="149.3" cy="592.5" r="2.85" fill="none" stroke="#9440c8" stroke-width="1.1"/>
<circle cx="149.3" cy="606.8" r="2.85" fill="none" stroke="#9440c8" stroke-width="1.1"/>
<circle cx="149.3" cy="613.8" r="2.85" fill="none" stroke="#9440c8" stroke-width="1.1"/>
<circle cx="185.8" cy="548.0" r="2.85" fill="none" stroke="#3030f0" stroke-width="1.1"/>
<circle cx="197.0" cy="543.3" r="2.85" fill="none" stroke="#3030f0" stroke-width="1.1"/>
<circle cx="191.7" cy="559.6" r="2.85" fill="none" stroke="#3030f0" stroke-width="1.1"/>
<circle cx="191.7" cy="566.7" r="2.85" fill="none" stroke="#3030f0" stroke-width="1.1"/>
<circle cx="186.2" cy="586.1" r="2.85" fill="none" stroke="#3030f0" stroke-width="1.1"/>
<circle cx="197.0" cy="585.1" r="2.85" fill="none" stroke="#3030f0" stroke-width="1.1"/>
<g stroke="#000" stroke-width="2" fill="none">
<line x1="82.1" y1="465.3" x2="82.1" y2="640.3"/>
<line x1="81.1" y1="639.3" x2="221.6" y2="639.3"/>
<line x1="75.5" y1="639.3" x2="82.1" y2="639.3"/>
<line x1="78.1" y1="622.0" x2="82.1" y2="622.0"/>
<line x1="75.5" y1="604.7" x2="82.1" y2="604.7"/>
<line x1="78.1" y1="587.4" x2="82.1" y2="587.4"/>
<line x1="75.5" y1="570.1" x2="82.1" y2="570.1"/>
<line x1="78.1" y1="552.8" x2="82.1" y2="552.8"/>
<line x1="75.5" y1="535.5" x2="82.1" y2="535.5"/>
<line x1="78.1" y1="518.2" x2="82.1" y2="518.2"/>
<line x1="75.5" y1="500.9" x2="82.1" y2="500.9"/>
<line x1="78.1" y1="483.6" x2="82.1" y2="483.6"/>
<line x1="75.5" y1="466.3" x2="82.1" y2="466.3"/>
<line x1="110.9" y1="639.3" x2="110.9" y2="646.3"/>
<line x1="149.3" y1="639.3" x2="149.3" y2="646.3"/>
<line x1="191.7" y1="639.3" x2="191.7" y2="646.3"/>
<polyline points="110.9,478.6 110.9,468.9 149.3,468.9 149.3,554.2" stroke-width="1.7"/>
</g>
<path d="M124.80,452.60L124.80,460.80M121.25,454.65L128.35,458.75M128.35,454.65L121.25,458.75" stroke="#000" stroke-width="1.7" fill="none"/>
<path d="M135.40,452.60L135.40,460.80M131.85,454.65L138.95,458.75M138.95,454.65L131.85,458.75" stroke="#000" stroke-width="1.7" fill="none"/>
<g font-family='"Liberation Sans", sans-serif' font-weight="bold" fill="#000">
<text x="72.6" y="643.9" font-size="12.5" text-anchor="end">0.0</text>
<text x="72.6" y="609.3" font-size="12.5" text-anchor="end">0.5</text>
<text x="72.6" y="574.7" font-size="12.5" text-anchor="end">1.0</text>
<text x="72.6" y="540.1" font-size="12.5" text-anchor="end">1.5</text>
<text x="72.6" y="505.5" font-size="12.5" text-anchor="end">2.0</text>
<text x="72.6" y="470.9" font-size="12.5" text-anchor="end">2.5</text>
<text x="110.9" y="660.6" font-size="13.3" text-anchor="middle">WT</text>
<text x="149.3" y="660.6" font-size="13.3" font-style="italic" text-anchor="middle">mtx-2</text>
<text x="191.7" y="660.6" font-size="13.3" font-style="italic" text-anchor="middle">gas-1</text>
<text transform="translate(29.1,545.3) rotate(-90)" font-size="14.8" text-anchor="middle">Basal respiration</text>
<text transform="translate(46.5,544.4) rotate(-90)" font-size="14.8" text-anchor="middle">OCR (pmol/min/worm)</text>
</g>
<path d="M325.3,640.2V536.4H350.5V640.2" fill="#fff" stroke="#000000" stroke-width="2.6" stroke-linejoin="miter"/>
<path d="M363.6,640.2V585.4H388.8V640.2" fill="#fff" stroke="#7f22b8" stroke-width="2.6" stroke-linejoin="miter"/>
<path d="M406.3,640.2V572.4H431.5V640.2" fill="#fff" stroke="#1a1af2" stroke-width="2.6" stroke-linejoin="miter"/>
<g stroke="#5e5e5e" stroke-width="1.25">
<line x1="337.9" y1="494.1" x2="337.9" y2="575.3"/>
<line x1="330.9" y1="494.1" x2="344.9" y2="494.1"/>
<line x1="330.9" y1="575.3" x2="344.9" y2="575.3"/>
</g>
<g stroke="#9a52cc" stroke-width="1.25">
<line x1="376.2" y1="567.3" x2="376.2" y2="600.9"/>
<line x1="369.2" y1="567.3" x2="383.2" y2="567.3"/>
<line x1="369.2" y1="600.9" x2="383.2" y2="600.9"/>
</g>
<g stroke="#4444ee" stroke-width="1.25">
<line x1="418.9" y1="556.8" x2="418.9" y2="585.6"/>
<line x1="411.9" y1="556.8" x2="425.9" y2="556.8"/>
<line x1="411.9" y1="585.6" x2="425.9" y2="585.6"/>
</g>
<circle cx="337.9" cy="489.6" r="2.85" fill="none" stroke="#222222" stroke-width="1.1"/>
<circle cx="337.9" cy="499.5" r="2.85" fill="none" stroke="#222222" stroke-width="1.1"/>
<circle cx="337.9" cy="518.1" r="2.85" fill="none" stroke="#222222" stroke-width="1.1"/>
<circle cx="337.9" cy="541.0" r="2.85" fill="none" stroke="#222222" stroke-width="1.1"/>
<circle cx="337.9" cy="563.1" r="2.85" fill="none" stroke="#222222" stroke-width="1.1"/>
<circle cx="337.9" cy="596.7" r="2.85" fill="none" stroke="#222222" stroke-width="1.1"/>
<circle cx="376.2" cy="563.5" r="2.85" fill="none" stroke="#9440c8" stroke-width="1.1"/>
<circle cx="376.2" cy="570.5" r="2.85" fill="none" stroke="#9440c8" stroke-width="1.1"/>
<circle cx="376.2" cy="579.3" r="2.85" fill="none" stroke="#9440c8" stroke-width="1.1"/>
<circle cx="376.2" cy="585.6" r="2.85" fill="none" stroke="#9440c8" stroke-width="1.1"/>
<circle cx="376.2" cy="595.7" r="2.85" fill="none" stroke="#9440c8" stroke-width="1.1"/>
<circle cx="376.2" cy="610.0" r="2.85" fill="none" stroke="#9440c8" stroke-width="1.1"/>
<circle cx="413.9" cy="558.9" r="2.85" fill="none" stroke="#3030f0" stroke-width="1.1"/>
<circle cx="424.3" cy="556.8" r="2.85" fill="none" stroke="#3030f0" stroke-width="1.1"/>
<circle cx="423.9" cy="564.6" r="2.85" fill="none" stroke="#3030f0" stroke-width="1.1"/>
<circle cx="413.9" cy="568.8" r="2.85" fill="none" stroke="#3030f0" stroke-width="1.1"/>
<circle cx="418.9" cy="580.5" r="2.85" fill="none" stroke="#3030f0" stroke-width="1.1"/>
<circle cx="418.9" cy="595.7" r="2.85" fill="none" stroke="#3030f0" stroke-width="1.1"/>
<g stroke="#000" stroke-width="2" fill="none">
<line x1="309.1" y1="465.7" x2="309.1" y2="641.2"/>
<line x1="308.1" y1="640.2" x2="448.6" y2="640.2"/>
<line x1="302.5" y1="640.2" x2="309.1" y2="640.2"/>
<line x1="305.1" y1="622.9" x2="309.1" y2="622.9"/>
<line x1="302.5" y1="605.5" x2="309.1" y2="605.5"/>
<line x1="305.1" y1="588.2" x2="309.1" y2="588.2"/>
<line x1="302.5" y1="570.8" x2="309.1" y2="570.8"/>
<line x1="305.1" y1="553.5" x2="309.1" y2="553.5"/>
<line x1="302.5" y1="536.1" x2="309.1" y2="536.1"/>
<line x1="305.1" y1="518.8" x2="309.1" y2="518.8"/>
<line x1="302.5" y1="501.4" x2="309.1" y2="501.4"/>
<line x1="305.1" y1="484.1" x2="309.1" y2="484.1"/>
<line x1="302.5" y1="466.7" x2="309.1" y2="466.7"/>
<line x1="337.9" y1="640.2" x2="337.9" y2="647.2"/>
<line x1="376.2" y1="640.2" x2="376.2" y2="647.2"/>
<line x1="418.9" y1="640.2" x2="418.9" y2="647.2"/>
<polyline points="337.9,477.6 337.9,468.9 376.2,468.9 376.2,552.4" stroke-width="1.7"/>
</g>
<path d="M357.05,452.60L357.05,460.80M353.50,454.65L360.60,458.75M360.60,454.65L353.50,458.75" stroke="#000" stroke-width="1.7" fill="none"/>
<g font-family='"Liberation Sans", sans-serif' font-weight="bold" fill="#000">
<text x="299.6" y="644.8" font-size="12.5" text-anchor="end">0.0</text>
<text x="299.6" y="610.1" font-size="12.5" text-anchor="end">1.0</text>
<text x="299.6" y="575.4" font-size="12.5" text-anchor="end">2.0</text>
<text x="299.6" y="540.7" font-size="12.5" text-anchor="end">3.0</text>
<text x="299.6" y="506.0" font-size="12.5" text-anchor="end">4.0</text>
<text x="299.6" y="471.3" font-size="12.5" text-anchor="end">5.0</text>
<text x="337.9" y="660.6" font-size="13.3" text-anchor="middle">WT</text>
<text x="376.2" y="660.6" font-size="13.3" font-style="italic" text-anchor="middle">mtx-2</text>
<text x="418.9" y="660.6" font-size="13.3" font-style="italic" text-anchor="middle">gas-1</text>
<text transform="translate(256.1,545.3) rotate(-90)" font-size="14.8" text-anchor="middle">Maximal respiration</text>
<text transform="translate(273.5,544.4) rotate(-90)" font-size="14.8" text-anchor="middle">OCR (pmol/min/worm)</text>
</g>
<path d="M551.7,640.2V536.0H576.9V640.2" fill="#fff" stroke="#000000" stroke-width="2.6" stroke-linejoin="miter"/>
<path d="M593.4,640.2V579.7H618.6V640.2" fill="#fff" stroke="#7f22b8" stroke-width="2.6" stroke-linejoin="miter"/>
<path d="M634.9,640.2V578.1H660.1V640.2" fill="#fff" stroke="#1a1af2" stroke-width="2.6" stroke-linejoin="miter"/>
<g stroke="#5e5e5e" stroke-width="1.25">
<line x1="564.3" y1="490.8" x2="564.3" y2="577.4"/>
<line x1="557.3" y1="490.8" x2="571.3" y2="490.8"/>
<line x1="557.3" y1="577.4" x2="571.3" y2="577.4"/>
</g>
<g stroke="#9a52cc" stroke-width="1.25">
<line x1="606.0" y1="560.6" x2="606.0" y2="595.3"/>
<line x1="599.0" y1="560.6" x2="613.0" y2="560.6"/>
<line x1="599.0" y1="595.3" x2="613.0" y2="595.3"/>
</g>
<g stroke="#4444ee" stroke-width="1.25">
<line x1="647.5" y1="562.7" x2="647.5" y2="590.4"/>
<line x1="640.5" y1="562.7" x2="654.5" y2="562.7"/>
<line x1="640.5" y1="590.4" x2="654.5" y2="590.4"/>
</g>
<circle cx="564.3" cy="489.2" r="2.85" fill="none" stroke="#222222" stroke-width="1.1"/>
<circle cx="564.3" cy="500.0" r="2.85" fill="none" stroke="#222222" stroke-width="1.1"/>
<circle cx="564.3" cy="518.0" r="2.85" fill="none" stroke="#222222" stroke-width="1.1"/>
<circle cx="559.1" cy="543.5" r="2.85" fill="none" stroke="#222222" stroke-width="1.1"/>
<circle cx="569.8" cy="545.6" r="2.85" fill="none" stroke="#222222" stroke-width="1.1"/>
<circle cx="564.3" cy="610.0" r="2.85" fill="none" stroke="#222222" stroke-width="1.1"/>
<circle cx="606.0" cy="561.0" r="2.85" fill="none" stroke="#9440c8" stroke-width="1.1"/>
<circle cx="600.7" cy="568.4" r="2.85" fill="none" stroke="#9440c8" stroke-width="1.1"/>
<circle cx="611.2" cy="572.6" r="2.85" fill="none" stroke="#9440c8" stroke-width="1.1"/>
<circle cx="600.7" cy="576.8" r="2.85" fill="none" stroke="#9440c8" stroke-width="1.1"/>
<circle cx="611.2" cy="577.2" r="2.85" fill="none" stroke="#9440c8" stroke-width="1.1"/>
<circle cx="606.0" cy="611.4" r="2.85" fill="none" stroke="#9440c8" stroke-width="1.1"/>
<circle cx="636.4" cy="570.0" r="2.85" fill="none" stroke="#3030f0" stroke-width="1.1"/>
<circle cx="642.1" cy="570.0" r="2.85" fill="none" stroke="#3030f0" stroke-width="1.1"/>
<circle cx="647.6" cy="570.0" r="2.85" fill="none" stroke="#3030f0" stroke-width="1.1"/>
<circle cx="653.3" cy="573.0" r="2.85" fill="none" stroke="#3030f0" stroke-width="1.1"/>
<circle cx="658.7" cy="570.0" r="2.85" fill="none" stroke="#3030f0" stroke-width="1.1"/>
<circle cx="647.5" cy="605.1" r="2.85" fill="none" stroke="#3030f0" stroke-width="1.1"/>
<g stroke="#000" stroke-width="2" fill="none">
<line x1="537.2" y1="466.1" x2="537.2" y2="641.2"/>
<line x1="536.2" y1="640.2" x2="676.7" y2="640.2"/>
<line x1="530.6" y1="640.2" x2="537.2" y2="640.2"/>
<line x1="533.2" y1="622.9" x2="537.2" y2="622.9"/>
<line x1="530.6" y1="605.6" x2="537.2" y2="605.6"/>
<line x1="533.2" y1="588.3" x2="537.2" y2="588.3"/>
<line x1="530.6" y1="571.0" x2="537.2" y2="571.0"/>
<line x1="533.2" y1="553.7" x2="537.2" y2="553.7"/>
<line x1="530.6" y1="536.3" x2="537.2" y2="536.3"/>
<line x1="533.2" y1="519.0" x2="537.2" y2="519.0"/>
<line x1="530.6" y1="501.7" x2="537.2" y2="501.7"/>
<line x1="533.2" y1="484.4" x2="537.2" y2="484.4"/>
<line x1="530.6" y1="467.1" x2="537.2" y2="467.1"/>
<line x1="564.3" y1="640.2" x2="564.3" y2="647.2"/>
<line x1="606.0" y1="640.2" x2="606.0" y2="647.2"/>
<line x1="647.5" y1="640.2" x2="647.5" y2="647.2"/>
<polyline points="564.3,478.4 564.3,468.9 606.0,468.9 606.0,553.0" stroke-width="1.7"/>
</g>
<path d="M585.15,452.60L585.15,460.80M581.60,454.65L588.70,458.75M588.70,454.65L581.60,458.75" stroke="#000" stroke-width="1.7" fill="none"/>
<g font-family='"Liberation Sans", sans-serif' font-weight="bold" fill="#000">
<text x="527.7" y="644.8" font-size="12.5" text-anchor="end">0.0</text>
<text x="527.7" y="610.2" font-size="12.5" text-anchor="end">0.5</text>
<text x="527.7" y="575.6" font-size="12.5" text-anchor="end">1.0</text>
<text x="527.7" y="540.9" font-size="12.5" text-anchor="end">1.5</text>
<text x="527.7" y="506.3" font-size="12.5" text-anchor="end">2.0</text>
<text x="527.7" y="471.7" font-size="12.5" text-anchor="end">2.5</text>
<text x="564.3" y="660.6" font-size="13.3" text-anchor="middle">WT</text>
<text x="606.0" y="660.6" font-size="13.3" font-style="italic" text-anchor="middle">mtx-2</text>
<text x="647.5" y="660.6" font-size="13.3" font-style="italic" text-anchor="middle">gas-1</text>
<text transform="translate(484.2,545.3) rotate(-90)" font-size="14.8" text-anchor="middle">Spare respiration</text>
<text transform="translate(501.6,544.4) rotate(-90)" font-size="14.8" text-anchor="middle">OCR (pmol/min/worm)</text>
</g>
</svg>
</body></html>
